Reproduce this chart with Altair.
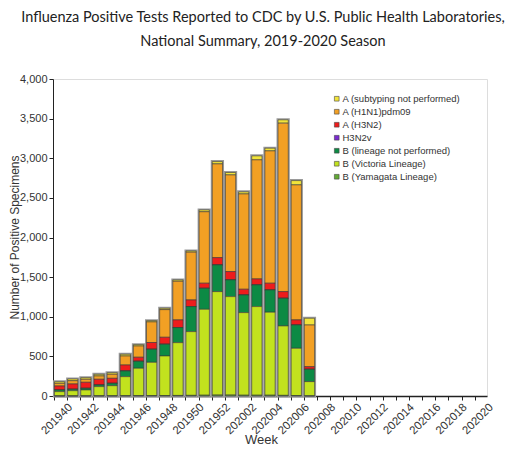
import altair as alt
import pandas as pd

weeks = [f"2019{w}" for w in range(40, 53)] + [f"2020{w:02d}" for w in range(1, 21)]

series = [
    "A (subtyping not performed)",
    "A (H1N1)pdm09",
    "A (H3N2)",
    "H3N2v",
    "B (lineage not performed)",
    "B (Victoria Lineage)",
    "B (Yamagata Lineage)",
]
colors = ["#F2E43A", "#F2A024", "#EE1C1C", "#7B2BD0", "#0C8A44", "#C2E21E", "#62AA34"]

# values for weeks 201940 .. 202007 (later weeks have no data)
a_not_subtyped = [20, 22, 20, 21, 20, 22, 17, 16, 17, 17, 16, 23, 29, 30, 26, 50, 34, 42, 54, 85]
a_h1n1 = [34, 41, 38, 42, 51, 114, 142, 260, 349, 488, 603, 902, 1183, 1220, 1203, 1503, 1670, 2126, 1704, 526]
a_h3n2 = [50, 67, 76, 72, 63, 75, 51, 85, 88, 97, 84, 64, 92, 105, 72, 75, 85, 84, 64, 33]
h3n2v = [0] * 20
b_not_lineage = [21, 18, 21, 21, 30, 72, 88, 165, 148, 190, 316, 265, 337, 211, 223, 274, 281, 349, 294, 156]
b_victoria = [53, 65, 74, 115, 127, 240, 345, 420, 499, 666, 804, 1084, 1305, 1242, 1042, 1118, 1047, 876, 596, 179]
b_yamagata = [2, 2, 2, 3, 3, 4, 5, 5, 6, 7, 8, 10, 12, 12, 10, 10, 10, 8, 6, 2]

values = [a_not_subtyped, a_h1n1, a_h3n2, h3n2v, b_not_lineage, b_victoria, b_yamagata]

rows = []
for si, (name, vals) in enumerate(zip(series, values)):
    for wi, v in enumerate(vals):
        rows.append({"week": weeks[wi], "series": name, "count": v, "order": len(series) - si})
df = pd.DataFrame(rows)
tot = df.groupby("week", as_index=False)["count"].sum()

W, H = 434, 317
FONT = "Liberation Sans, Arial, sans-serif"

x_scale = alt.Scale(domain=weeks, paddingInner=0.22, paddingOuter=0.11)
y_scale = alt.Scale(domain=[0, 4000], nice=False)

x_axis = alt.Axis(
    title="Week",
    bandPosition=0,
    labelExpr="toNumber(datum.value) % 2 == 0 ? datum.label : ''",
    labelAngle=-45,
    labelOffset=7,
    labelOverlap=False,
    labelFont=FONT,
    labelFontSize=11.5,
    labelColor="#333333",
    labelPadding=1,
    tickSize=4,
    tickColor="#222222",
    domainColor="#222222",
    domainWidth=1.5,
    titleFont=FONT,
    titleFontSize=13,
    titleFontWeight="normal",
    titleColor="#333333",
    titleX=208,
    titleY=43,
    titleBaseline="middle",
)
y_axis = alt.Axis(
    title="Number of Positive Specimens",
    values=list(range(0, 4001, 500)),
    format=",d",
    grid=False,
    labelFont=FONT,
    labelFontSize=11,
    labelColor="#333333",
    tickSize=4,
    tickColor="#222222",
    domainColor="#222222",
    titleFont=FONT,
    titleFontSize=12,
    titleFontWeight="normal",
    titleColor="#333333",
    titleX=-39,
    titleY=158,
    titleAlign="center",
    titleBaseline="middle",
    titleAngle=-90,
)

shadow = alt.Chart(tot).mark_bar(fill="#ffffff", stroke="#9a9a9a", strokeWidth=3).encode(
    x=alt.X("week:N", scale=x_scale, axis=x_axis, sort=weeks),
    y=alt.Y("count:Q", scale=y_scale, axis=y_axis),
)

bars = alt.Chart(df).mark_bar(stroke="#3a3a3a", strokeWidth=0.6).encode(
    x=alt.X("week:N", scale=x_scale, axis=x_axis, sort=weeks),
    y=alt.Y("count:Q", scale=y_scale, axis=y_axis, stack="zero"),
    color=alt.Color(
        "series:N",
        scale=alt.Scale(domain=series, range=colors),
        legend=alt.Legend(
            title=None,
            orient="none",
            legendX=279,
            legendY=15,
            symbolType="square",
            symbolSize=22,
            symbolStrokeColor="#444444",
            symbolStrokeWidth=0.6,
            labelFont=FONT,
            labelFontSize=9.5,
            labelColor="#333333",
            labelOffset=1,
            rowPadding=2,
            padding=0,
        ),
    ),
    order=alt.Order("order:Q", sort="ascending"),
)

chart = (
    alt.layer(shadow, bars)
    .properties(
        width=W,
        height=H,
        autosize="none",
        padding={"left": 45, "top": 71, "right": 31, "bottom": 53},
        title=alt.TitleParams(
            text=["Influenza Positive Tests Reported to CDC by U.S. Public Health Laboratories,",
                  "National Summary, 2019-2020 Season"],
            font="Lato",
            fontSize=14.5,
            fontWeight="normal",
            color="#222222",
            lineHeight=24,
            anchor="middle",
            dx=-7,
            offset=24,
        ),
    )
    .configure_view(stroke=None)
    .configure(background="white")
)

chart.save("out.html", embed_options={"renderer": "svg", "actions": False})
